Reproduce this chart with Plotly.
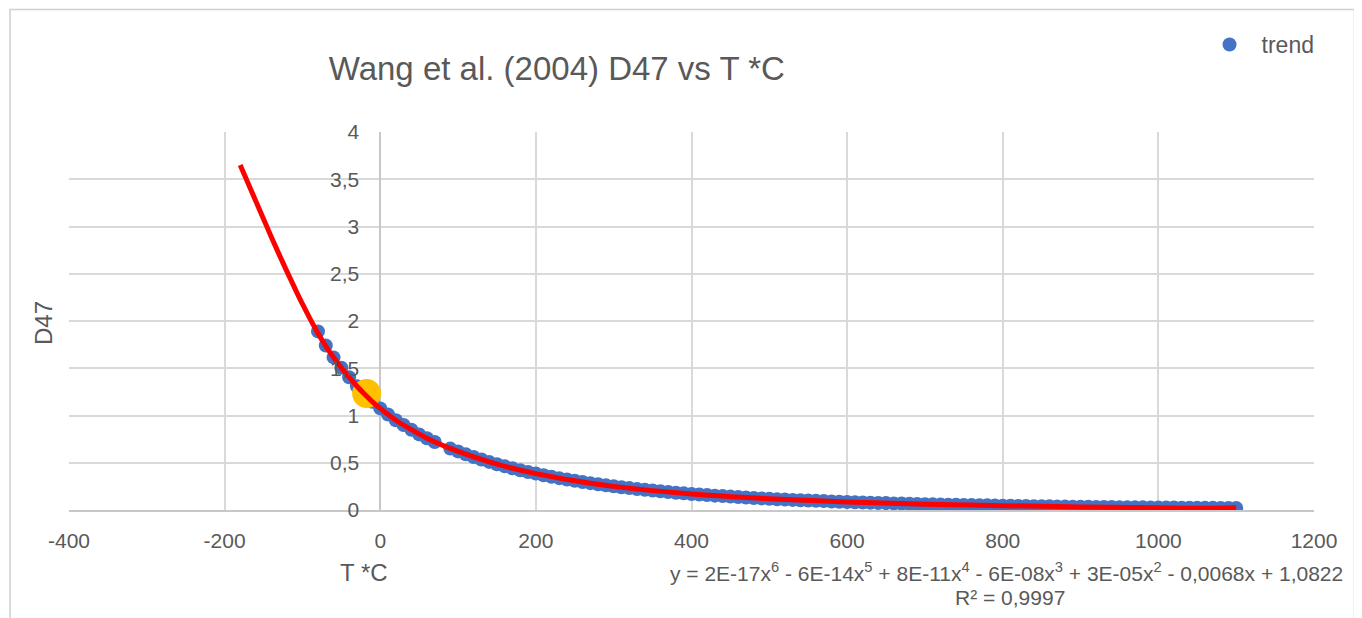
import plotly.graph_objects as go

# ---- data ----
temps_c = [-80, -70, -60, -50, -40, -30, -20, -10, 0, 10, 20, 30, 40, 50, 60, 70,
           90, 100, 110, 120, 130, 140, 150, 160, 170, 180, 190, 200,
           210, 220, 230, 240, 250, 260, 270, 280, 290, 300,
           310, 320, 330, 340, 350, 360, 370, 380, 390, 400,
           410, 420, 430, 440, 450, 460, 470, 480, 490, 500,
           510, 520, 530, 540, 550, 560, 570, 580, 590, 600,
           610, 620, 630, 640, 650, 660, 670, 680, 690, 700,
           710, 720, 730, 740, 750, 760, 770, 780, 790, 800,
           810, 820, 830, 840, 850, 860, 870, 880, 890, 900,
           910, 920, 930, 940, 950, 960, 970, 980, 990, 1000,
           1010, 1020, 1030, 1040, 1050, 1060, 1070, 1080, 1090, 1100]
d47 = [1.89, 1.74, 1.615, 1.505, 1.405, 1.31, 1.225, 1.145, 1.075, 1.01, 0.95, 0.90, 0.85, 0.80, 0.76, 0.72,
       0.65, 0.62, 0.589, 0.561, 0.534, 0.509, 0.484, 0.462, 0.441, 0.421, 0.402, 0.385,
       0.368, 0.352, 0.337, 0.323, 0.309, 0.296, 0.284, 0.272, 0.261, 0.251,
       0.241, 0.232, 0.223, 0.214, 0.206, 0.198, 0.190, 0.183, 0.176, 0.170,
       0.164, 0.158, 0.152, 0.147, 0.142, 0.137, 0.132, 0.127, 0.123, 0.118,
       0.114, 0.110, 0.107, 0.103, 0.100, 0.097, 0.094, 0.090, 0.087, 0.085,
       0.082, 0.080, 0.077, 0.075, 0.073, 0.070, 0.068, 0.066, 0.064, 0.062,
       0.060, 0.058, 0.056, 0.055, 0.053, 0.052, 0.050, 0.049, 0.047, 0.046,
       0.045, 0.043, 0.042, 0.041, 0.040, 0.039, 0.037, 0.036, 0.035, 0.034,
       0.034, 0.033, 0.032, 0.031, 0.030, 0.030, 0.029, 0.028, 0.027, 0.027,
       0.026, 0.026, 0.025, 0.024, 0.024, 0.023, 0.023, 0.022, 0.022, 0.021]

trend_t = [-180, -170, -160, -150, -140, -130, -120, -110, -100, -90, -80, -70, -60, -50,
           -40, -30, -20, -10, 0, 20, 40, 60, 80, 100, 150, 200, 250, 300, 400, 500,
           600, 700, 800, 900, 1000, 1050, 1100]
trend_d47 = [3.65, 3.46, 3.27, 3.08, 2.89, 2.705, 2.525, 2.35, 2.18, 2.02, 1.87, 1.735, 1.615, 1.505,
             1.405, 1.31, 1.225, 1.145, 1.075, 0.95, 0.85, 0.76, 0.685, 0.62, 0.485, 0.385, 0.31, 0.25,
             0.17, 0.12, 0.085, 0.062, 0.046, 0.033, 0.023, 0.018, 0.025]

highlight_t = [-17.5]
highlight_d47 = [1.234]

x_ticks = [-400, -200, 0, 200, 400, 600, 800, 1000, 1200]
x_tick_labels = ["-400", "-200", "0", "200", "400", "600", "800", "1000", "1200"]
y_ticks = [0, 0.5, 1, 1.5, 2, 2.5, 3, 3.5, 4]
y_tick_labels = ["0", "0,5", "1", "1,5", "2", "2,5", "3", "3,5", "4"]

title_text = "Wang et al. (2004) D47 vs T *C"
series_name = "trend"
eq_text = ("y = 2E-17x<sup>6</sup> - 6E-14x<sup>5</sup> + 8E-11x<sup>4</sup> - 6E-08x<sup>3</sup>"
           " + 3E-05x<sup>2</sup> - 0,0068x + 1,0822")
r2_text = "R² = 0,9997"

# ---- figure ----
FONT = "Liberation Sans, Arial, sans-serif"
GREY = "#595959"

W, H = 1362, 618
OFF = 8  # page body margin
# target pixel positions of plot area in the screenshot
PL, PR, PT, PB = 69, 1314.5, 132.3, 509.7
ML, MT = PL - OFF, PT - OFF
MR, MB = W - (PR - OFF), H - (PB - OFF)
PW = PR - PL
PH = PB - PT


def px(x):
    return (x - PL) / PW


def py(y):
    return (PB - y) / PH


fig = go.Figure()

fig.add_trace(go.Scatter(
    x=temps_c, y=d47, mode="markers", name=series_name,
    marker=dict(color="#4472c4", size=14, line=dict(width=0)),
    showlegend=True,
))
fig.add_trace(go.Scatter(
    x=highlight_t, y=highlight_d47, mode="markers",
    marker=dict(color="#ffc000", size=29, line=dict(width=0)),
    showlegend=False, hoverinfo="skip",
))
fig.add_trace(go.Scatter(
    x=trend_t, y=trend_d47, mode="lines", line=dict(color="#ff0000", width=5, shape="spline"),
    showlegend=False,
))

fig.update_layout(
    width=W, height=H,
    margin=dict(l=ML, r=MR, t=MT, b=MB),
    paper_bgcolor="white", plot_bgcolor="white",
    font=dict(family=FONT, color=GREY, size=21),
    title=dict(text=title_text, x=px(557), xref="paper", xanchor="center",
               y=1 - (68 - OFF) / H, yref="container", yanchor="middle",
               font=dict(size=33, color=GREY, family=FONT)),
    legend=dict(x=px(1198), y=py(45), xanchor="left", yanchor="middle", itemwidth=54,
                bgcolor="rgba(0,0,0,0)", font=dict(size=23, color=GREY)),
    xaxis=dict(range=[-400, 1200], tickvals=x_ticks, ticktext=x_tick_labels,
               showgrid=True, gridcolor="#d9d9d9", gridwidth=1.5,
               zeroline=True, zerolinecolor="#c8c8c8", zerolinewidth=1.8,
               showline=True, linecolor="#c8c8c8", linewidth=1.8, mirror=False,
               ticks="", ticklabelstandoff=11, tickfont=dict(size=21, color=GREY)),
    yaxis=dict(range=[0, 4], tickvals=y_ticks, ticktext=y_tick_labels,
               anchor="free", position=0.25,
               showgrid=True, gridcolor="#d9d9d9", gridwidth=1.5,
               zeroline=True, zerolinecolor="#c8c8c8", zerolinewidth=1.8,
               showline=False, ticks="", ticklabelstandoff=21,
               tickfont=dict(size=21, color=GREY)),
    annotations=[
        dict(text="T *C", x=px(364), y=py(572), xref="paper", yref="paper",
             xanchor="center", yanchor="middle", showarrow=False,
             font=dict(size=24, color=GREY)),
        dict(text="D47", x=px(43), y=py(323), xref="paper", yref="paper",
             xanchor="center", yanchor="middle", showarrow=False, textangle=-90,
             font=dict(size=24, color=GREY)),
        dict(text=eq_text, x=px(1346), y=py(572), xref="paper", yref="paper",
             xanchor="right", yanchor="middle", showarrow=False,
             font=dict(size=21, color=GREY)),
        dict(text=r2_text, x=px(1010), y=py(597), xref="paper", yref="paper",
             xanchor="center", yanchor="middle", showarrow=False,
             font=dict(size=21, color=GREY)),
    ],
    shapes=[
        dict(type="rect", xref="paper", yref="paper",
             x0=px(10), x1=px(1355), y0=py(640), y1=py(10),
             line=dict(color="#d0d0d0", width=1.5), fillcolor="rgba(0,0,0,0)", layer="above"),
    ],
)

fig.write_html("out.html")
